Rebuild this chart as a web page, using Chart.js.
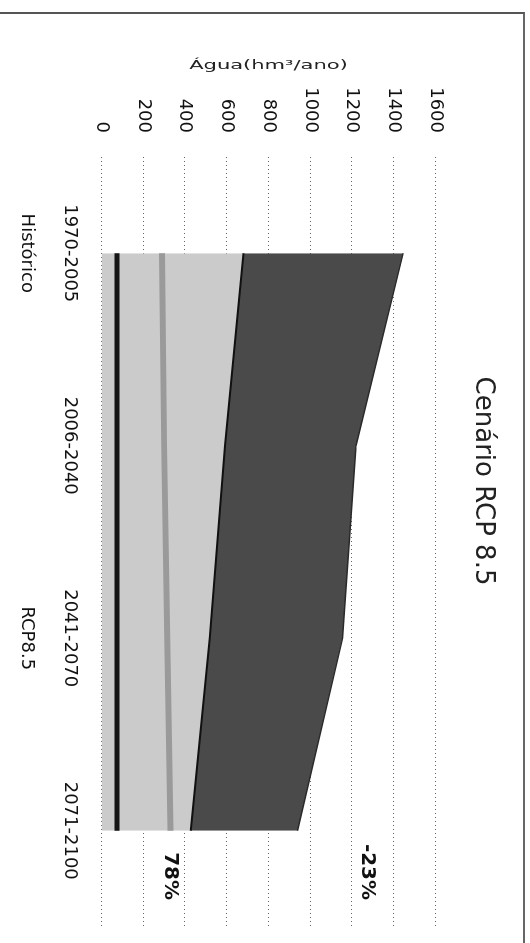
<!DOCTYPE html>
<html>
<head>
<meta charset="utf-8">
<script src="https://cdn.jsdelivr.net/npm/chart.js@4/dist/chart.umd.min.js"></script>
<style>
  html, body { margin: 0; padding: 0; overflow: hidden; background: #fff; }
  #wrap {
    position: absolute; left: 0; top: 0;
    width: 943px; height: 530px;
    transform-origin: 0 0;
    transform: translateX(530px) rotate(90deg);
  }
  #frame {
    position: absolute; left: 12px; top: 5px; width: 940px; height: 530px;
    border-left: 2px solid #555; border-top: 2px solid #666;
  }
  canvas { position: absolute; left: 0; top: 0; }
</style>
</head>
<body>
<div id="wrap">
  <div id="frame"></div>
  <canvas id="chart" width="943" height="530"></canvas>
</div>
<script>
// values
const categories = ['1970-2005', '2006-2040', '2041-2070', '2071-2100'];
const periodGroups = ['Histórico', '', 'RCP8.5', ''];
const lightTop = [680, 592, 519, 427];
const darkTop = [1445, 1219, 1155, 939];
const greyLine = [290, 300, 315, 330];
const blackLine = [74, 74, 74, 74];
const noteLabels = ['78%', '-23%'];
const noteValues = [328, 1274];

const axisTitle = 'Água(hm³/ano)';

// stretched y axis title, like the scan
const yTitlePlugin = {
  id: 'yTitle',
  afterDraw(chart) {
    const ctx = chart.ctx;
    const y = chart.scales.y;
    ctx.save();
    ctx.translate(66, (y.top + y.bottom) / 2);
    ctx.rotate(-Math.PI / 2);
    ctx.scale(1.75, 1);
    ctx.font = '12px "DejaVu Sans"';
    ctx.fillStyle = '#222';
    ctx.textAlign = 'center';
    ctx.textBaseline = 'middle';
    ctx.fillText(axisTitle, 0, 0);
    ctx.restore();
  }
};

// the two percentage notes at the end of the series
const notesPlugin = {
  id: 'notes',
  afterDatasetsDraw(chart) {
    const ctx = chart.ctx;
    const x = chart.scales.x;
    const y = chart.scales.y;
    ctx.save();
    ctx.font = 'bold 20px "DejaVu Sans"';
    ctx.fillStyle = '#111';
    ctx.textAlign = 'right';
    ctx.textBaseline = 'middle';
    noteLabels.forEach((t, i) => {
      ctx.fillText(t, x.getPixelForValue(categories.length - 1 + 0.36), y.getPixelForValue(noteValues[i]));
    });
    ctx.restore();
  }
};

new Chart(document.getElementById('chart'), {
  type: 'line',
  data: {
    labels: categories.map((c, i) => [c, '', periodGroups[i]]),
    datasets: [
      {
        label: 'base',
        data: lightTop,
        backgroundColor: '#cbcbcb',
        borderColor: '#111',
        borderWidth: 2,
        fill: 'origin',
        pointRadius: 0,
        order: 2
      },
      {
        label: 'total',
        data: darkTop,
        backgroundColor: '#4a4a4a',
        borderColor: '#2a2a2a',
        borderWidth: 1.5,
        fill: 0,
        pointRadius: 0,
        order: 3
      },
      {
        label: 'grey',
        data: greyLine,
        borderColor: '#9a9a9a',
        borderWidth: 6,
        fill: false,
        pointRadius: 0,
        order: 1
      },
      {
        label: 'black',
        data: blackLine,
        borderColor: '#151515',
        borderWidth: 5,
        fill: false,
        pointRadius: 0,
        order: 0
      }
    ]
  },
  options: {
    responsive: false,
    animation: false,
    devicePixelRatio: 1,
    layout: { padding: { left: 35, right: 16, top: 0, bottom: 21.5 } },
    plugins: {
      legend: { display: false },
      tooltip: { enabled: false },
      title: {
        display: true,
        text: 'Cenário RCP 8.5',
        color: '#222',
        font: { family: 'DejaVu Sans', size: 26, weight: 'normal', lineHeight: 1.2 },
        padding: { top: 32, bottom: 31.3 }
      }
    },
    scales: {
      x: {
        type: 'category',
        offset: true,
        grid: { display: false, drawTicks: false },
        border: { display: false },
        ticks: {
          color: '#111',
          padding: 21,
          maxRotation: 0,
          autoSkip: false,
          font: { family: 'DejaVu Sans', size: 18, lineHeight: 1.2 }
        },
        afterFit(scale) { scale.height = 80; }
      },
      y: {
        min: 0,
        max: 1600,
        grid: { color: '#666', lineWidth: 1, drawTicks: false },
        border: { display: false, dash: [1, 3] },
        ticks: {
          stepSize: 200,
          color: '#111',
          padding: 24,
          font: { family: 'DejaVu Sans', size: 18 },
          callback: (v) => String(v)
        },
        afterFit(scale) { scale.width = 122; }
      }
    }
  },
  plugins: [yTitlePlugin, notesPlugin]
});
</script>
</body>
</html>
